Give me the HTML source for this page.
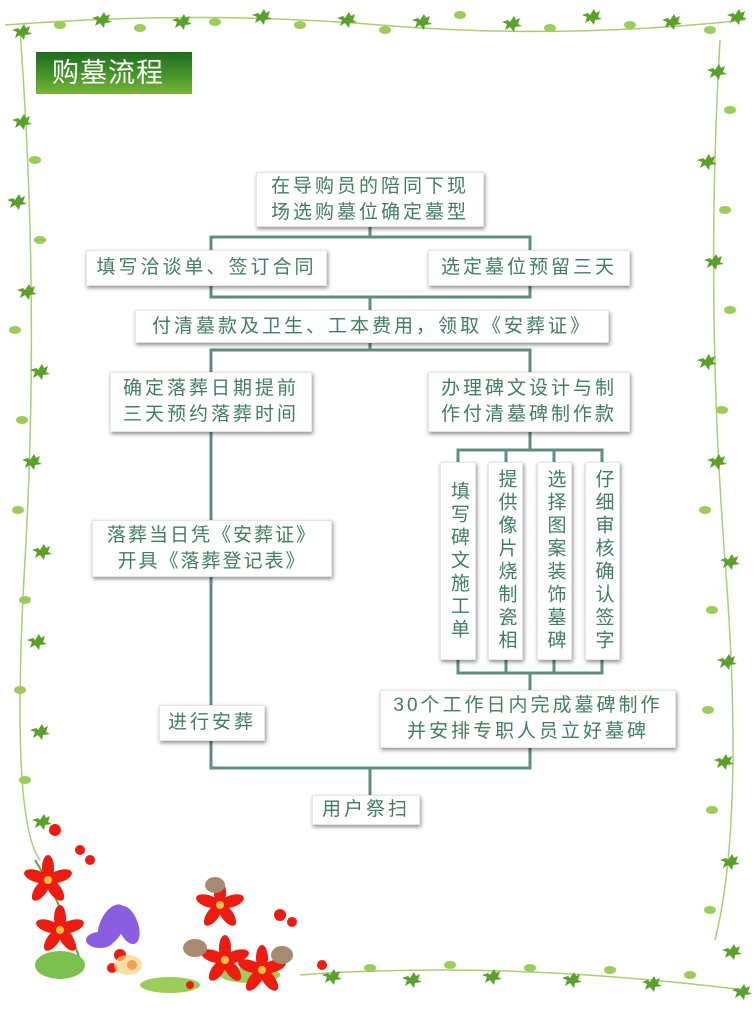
<!DOCTYPE html>
<html><head><meta charset="utf-8"><style>
body{margin:0;width:755px;height:1022px;background:#fff;position:relative;overflow:hidden;font-family:"Liberation Sans","Noto Sans CJK SC",sans-serif}
svg.bg{position:absolute;left:0;top:0}
.b{position:absolute;background:#fff;box-shadow:1px 2px 4px rgba(0,0,0,.45);color:#3f7f5f;font-size:19px;letter-spacing:3px;text-align:center;display:flex;align-items:center;justify-content:center;line-height:26px;box-sizing:border-box;border:1px solid #e6e6e6}
.v{writing-mode:vertical-rl;letter-spacing:4px;font-size:19px}
.t{position:absolute;left:36px;top:52px;width:156px;height:42px;background:linear-gradient(#1f6a1f,#4b9a2a 60%,#7bb53a);color:#fff;font-size:27px;line-height:42px;padding-left:16px;box-sizing:border-box;letter-spacing:1px}
</style></head><body>
<svg class="bg" width="755" height="1022">
<defs>
<g id="lf"><path d="M0,0 L4,-6 L6,-2 L10,-4 L8,2 L12,4 L5,5 L4,10 L0,5 L-5,8 L-3,2 L-8,0 L-2,-2Z" fill="#5aa02a"/></g>
<g id="lf2"><ellipse cx="0" cy="0" rx="6" ry="4" fill="#9ccd5a"/></g>
<g id="fl"><g fill="#ee1c10"><ellipse cx="0" cy="-12" rx="6" ry="13"/><ellipse cx="0" cy="-12" rx="6" ry="13" transform="rotate(72)"/><ellipse cx="0" cy="-12" rx="6" ry="13" transform="rotate(144)"/><ellipse cx="0" cy="-12" rx="6" ry="13" transform="rotate(216)"/><ellipse cx="0" cy="-12" rx="6" ry="13" transform="rotate(288)"/></g><circle r="4" fill="#f8c040"/></g>
</defs>
<g stroke="#a8cf70" stroke-width="1.5" fill="none">
<path d="M5,25 Q200,10 380,25 T745,20"/>
<path d="M20,30 Q40,300 25,560 T40,860"/>
<path d="M720,40 Q705,300 725,560 T715,940"/>
<path d="M300,975 Q500,960 745,990"/>
</g>
<g>
<use href="#lf" x="20" y="30"/><use href="#lf2" x="60" y="25"/><use href="#lf" x="100" y="18"/><use href="#lf2" x="140" y="28"/><use href="#lf" x="180" y="20"/><use href="#lf2" x="215" y="22"/><use href="#lf" x="260" y="15"/><use href="#lf2" x="300" y="25"/><use href="#lf" x="345" y="18"/><use href="#lf2" x="385" y="30"/><use href="#lf" x="420" y="20"/><use href="#lf2" x="460" y="15"/><use href="#lf" x="510" y="22"/><use href="#lf2" x="550" y="28"/><use href="#lf" x="590" y="15"/><use href="#lf2" x="630" y="25"/><use href="#lf" x="670" y="20"/><use href="#lf2" x="710" y="30"/><use href="#lf" x="735" y="15"/>
<use href="#lf" x="20" y="120"/><use href="#lf2" x="35" y="160"/><use href="#lf" x="15" y="200"/><use href="#lf2" x="40" y="240"/><use href="#lf" x="25" y="290"/><use href="#lf2" x="15" y="330"/><use href="#lf" x="38" y="370"/><use href="#lf2" x="22" y="420"/><use href="#lf" x="30" y="460"/><use href="#lf2" x="18" y="510"/><use href="#lf" x="40" y="550"/><use href="#lf2" x="25" y="600"/><use href="#lf" x="35" y="640"/><use href="#lf2" x="20" y="690"/><use href="#lf" x="38" y="730"/><use href="#lf2" x="25" y="780"/><use href="#lf" x="40" y="820"/>
<use href="#lf" x="715" y="70"/><use href="#lf2" x="730" y="110"/><use href="#lf" x="705" y="160"/><use href="#lf2" x="725" y="210"/><use href="#lf" x="712" y="260"/><use href="#lf2" x="730" y="310"/><use href="#lf" x="705" y="360"/><use href="#lf2" x="722" y="410"/><use href="#lf" x="715" y="460"/><use href="#lf2" x="705" y="510"/><use href="#lf" x="728" y="560"/><use href="#lf2" x="712" y="610"/><use href="#lf" x="725" y="660"/><use href="#lf2" x="708" y="710"/><use href="#lf" x="722" y="760"/><use href="#lf2" x="712" y="810"/><use href="#lf" x="728" y="860"/><use href="#lf2" x="710" y="910"/><use href="#lf" x="730" y="950"/>
<use href="#lf" x="330" y="975"/><use href="#lf2" x="370" y="968"/><use href="#lf" x="410" y="978"/><use href="#lf2" x="450" y="965"/><use href="#lf" x="490" y="975"/><use href="#lf2" x="530" y="968"/><use href="#lf" x="570" y="978"/><use href="#lf2" x="610" y="970"/><use href="#lf" x="650" y="982"/><use href="#lf2" x="690" y="975"/><use href="#lf" x="740" y="990"/>
</g>
<g>
<path d="M80,960 Q60,900 35,860" stroke="#6aa040" stroke-width="2" fill="none"/>
<ellipse cx="60" cy="965" rx="25" ry="14" fill="#7cc050"/><ellipse cx="170" cy="985" rx="30" ry="8" fill="#9ccd5a"/><ellipse cx="250" cy="975" rx="30" ry="8" fill="#9ccd5a"/>
<use href="#fl" x="48" y="880"/><use href="#fl" x="60" y="930"/><use href="#fl" x="225" y="960"/><use href="#fl" x="262" y="970"/><use href="#fl" x="220" y="905"/>
<g fill="#8a5ce0"><ellipse cx="112" cy="925" rx="12" ry="22" transform="rotate(25 112 925)"/><ellipse cx="128" cy="925" rx="10" ry="20" transform="rotate(-20 128 925)"/><ellipse cx="100" cy="940" rx="14" ry="8"/></g>
<g fill="#ee1c10"><circle cx="120" cy="955" r="6"/><circle cx="132" cy="965" r="5"/><circle cx="112" cy="968" r="5"/><circle cx="55" cy="830" r="6"/><circle cx="80" cy="850" r="5"/><circle cx="90" cy="860" r="5"/><circle cx="280" cy="915" r="6"/><circle cx="292" cy="922" r="5"/><circle cx="190" cy="985" r="4"/><circle cx="322" cy="965" r="5"/></g>
<g fill="#a88a70"><ellipse cx="215" cy="885" rx="10" ry="8"/><ellipse cx="195" cy="948" rx="12" ry="9"/><ellipse cx="282" cy="955" rx="11" ry="9"/></g>
<ellipse cx="128" cy="965" rx="14" ry="10" fill="#f5d47a" opacity=".7"/>
</g>
<g stroke="#5f8f7c" stroke-width="3" fill="none">
<path d="M370,227V237M211,250V237H530V250M211,286V297H530V286M370,297V310M370,343V350M211,372V350H530V372"/>
<path d="M211,432V520M211,577V705M211,741V768H530V748M370,768V795"/>
<path d="M530,432V450M458,462V450H602V462M458,660V673H602V660M506,450V462M554,450V462M506,660V673M554,660V673M530,673V690"/>
</g>
</svg>
<div class="t">购墓流程</div>
<div class="b" style="left:256px;top:172px;width:228px;height:55px">在导购员的陪同下现<br>场选购墓位确定墓型</div>
<div class="b" style="left:86px;top:250px;width:241px;height:36px">填写洽谈单、签订合同</div>
<div class="b" style="left:428px;top:250px;width:202px;height:36px">选定墓位预留三天</div>
<div class="b" style="left:135px;top:310px;width:474px;height:33px">付清墓款及卫生、工本费用，领取《安葬证》</div>
<div class="b" style="left:110px;top:372px;width:202px;height:60px">确定落葬日期提前<br>三天预约落葬时间</div>
<div class="b" style="left:428px;top:372px;width:202px;height:60px">办理碑文设计与制<br>作付清墓碑制作款</div>
<div class="b" style="left:92px;top:520px;width:240px;height:57px;letter-spacing:2px">落葬当日凭《安葬证》<br>开具《落葬登记表》</div>
<div class="b v" style="left:440px;top:462px;width:36px;height:198px">填写碑文施工单</div>
<div class="b v" style="left:488px;top:462px;width:35px;height:198px">提供像片烧制瓷相</div>
<div class="b v" style="left:537px;top:462px;width:35px;height:198px">选择图案装饰墓碑</div>
<div class="b v" style="left:585px;top:462px;width:35px;height:198px">仔细审核确认签字</div>
<div class="b" style="left:159px;top:705px;width:106px;height:36px">进行安葬</div>
<div class="b" style="left:380px;top:690px;width:296px;height:58px">30个工作日内完成墓碑制作<br>并安排专职人员立好墓碑</div>
<div class="b" style="left:312px;top:795px;width:108px;height:30px">用户祭扫</div>
</body></html>
